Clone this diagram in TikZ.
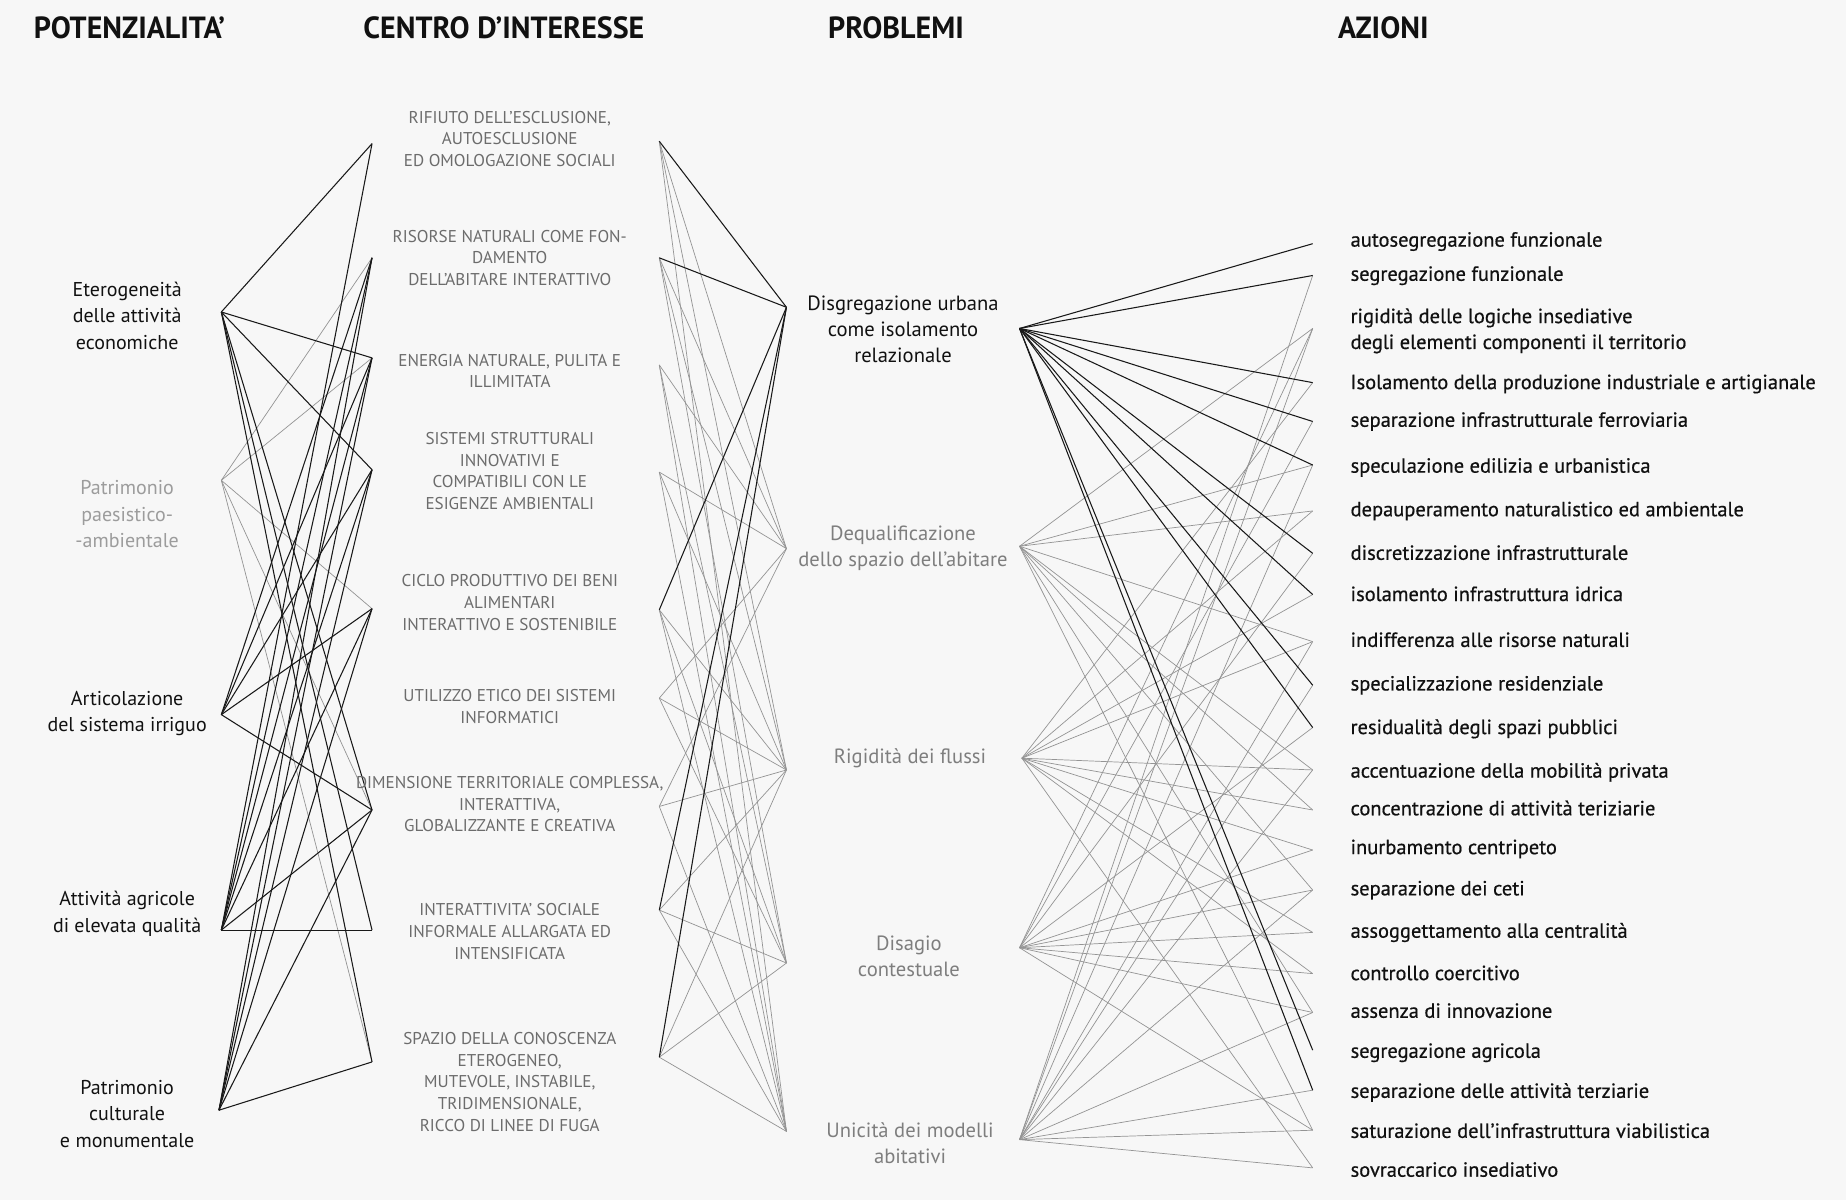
\documentclass[tikz,border=0pt]{standalone}
\usepackage{fontspec}
\setmainfont{PT Sans}
\newfontfamily\hdfont[FakeStretch=0.98]{PT Sans Bold}
\newfontfamily\capfont{PT Sans}
\newfontfamily\actfont[FakeBold=0.6]{PT Sans}
\definecolor{bgc}{HTML}{F7F7F7}
\definecolor{ink}{HTML}{111111}
\definecolor{cgrey}{HTML}{6C6C6C}
\definecolor{pgrey}{HTML}{7E7E7E}
\definecolor{lgrey}{HTML}{9C9C9C}
\begin{document}
\begin{tikzpicture}[x=1pt,y=-1pt,
  hdr/.style={font=\hdfont\fontsize{26}{28}\selectfont, text=ink, inner sep=0},
  lft/.style={font=\fontsize{17}{22.5}\selectfont, align=center, text=ink, inner sep=0},
  ctr/.style={font=\capfont\fontsize{14.5}{18.5}\selectfont, align=center, text=cgrey, inner sep=0},
  prb/.style={font=\fontsize{17.5}{22}\selectfont, align=center, text=ink, inner sep=0},
  act/.style={font=\actfont\fontsize{17.4}{22}\selectfont, align=left, text=ink, inner sep=0, anchor=mid west},
  blk/.style={draw=black!90, line width=0.9pt},
  gry/.style={draw=black!42, line width=0.6pt}]
\fill[bgc] (0,0) rectangle (1568,1019);
\useasboundingbox (0,0) rectangle (1568,1019);

% anchors: potenzialita
\coordinate (pL1) at (188,265);
\coordinate (pL2) at (188,408);
\coordinate (pL3) at (188,607);
\coordinate (pL4) at (188,790);
\coordinate (pL5) at (186,943);
% centro left
\coordinate (cL1) at (316,122);
\coordinate (cL2) at (316,219);
\coordinate (cL3) at (316,304);
\coordinate (cL4) at (316,399);
\coordinate (cL5) at (316,517);
\coordinate (cL7) at (316,688);
\coordinate (cL8) at (316,790);
\coordinate (cL9) at (316,902);
% centro right
\coordinate (cR1) at (560,120);
\coordinate (cR2) at (560,219);
\coordinate (cR3) at (560,310);
\coordinate (cR4) at (560,401);
\coordinate (cR5) at (560,518);
\coordinate (cR6) at (560,593);
\coordinate (cR7) at (560,685);
\coordinate (cR8) at (560,773);
\coordinate (cR9) at (560,898);
% problemi
\coordinate (qL1) at (668,261);
\coordinate (qL2) at (668,466);
\coordinate (qL3) at (668,654);
\coordinate (qL4) at (668,818);
\coordinate (qL5) at (668,961);
\coordinate (qR1) at (866,279);
\coordinate (qR2) at (866,464);
\coordinate (qR3) at (868,644);
\coordinate (qR4) at (866,805);
\coordinate (qR5) at (866,968);
% azioni
\foreach \n/\y in {1/207,2/234,3/279,4/325,5/358,6/395,7/434,8/470,9/505,10/545,11/582,12/618,13/654,14/688,15/722,16/756,17/792,18/827,19/860,20/892,21/926,22/960,23/992}
  \coordinate (a\n) at (1115,\y);

% ---- layer 1
\foreach \s/\t in {pL2/cL2,pL2/cL3,pL2/cL5,pL2/cL7,pL2/cL9}
  \draw[gry] (\s) -- (\t);
\foreach \s/\t in {pL1/cL1,pL1/cL3,pL1/cL4,pL1/cL7,pL1/cL8,pL1/cL9,
  pL3/cL2,pL3/cL3,pL3/cL4,pL3/cL5,pL3/cL7,
  pL4/cL1,pL4/cL2,pL4/cL3,pL4/cL4,pL4/cL5,pL4/cL7,pL4/cL8,
  pL5/cL2,pL5/cL3,pL5/cL4,pL5/cL5,pL5/cL7,pL5/cL9}
  \draw[blk] (\s) -- (\t);
% ---- layer 2
\foreach \s/\t in {cR1/qL2,cR1/qL3,cR1/qL5,cR2/qL2,cR2/qL3,cR2/qL4,cR3/qL2,cR3/qL4,cR3/qL5,
  cR4/qL2,cR4/qL3,cR4/qL5,cR5/qL3,cR5/qL4,cR5/qL5,cR6/qL2,cR6/qL3,cR6/qL4,
  cR7/qL2,cR7/qL3,cR7/qL5,cR8/qL3,cR8/qL4,cR8/qL5,cR9/qL3,cR9/qL4,cR9/qL5}
  \draw[gry] (\s) -- (\t);
\foreach \s/\t in {cR1/qL1,cR2/qL1,cR5/qL1,cR8/qL1,cR9/qL1}
  \draw[blk] (\s) -- (\t);
% ---- layer 3
\foreach \t in {3,6,7,10,13,14,16,19,22}
  \draw[gry] (qR2) -- (a\t);
\foreach \t in {4,7,9,10,13,14,15,17,18,23}
  \draw[gry] (qR3) -- (a\t);
\foreach \t in {3,5,8,12,15,16,17,18,19,22}
  \draw[gry] (qR4) -- (a\t);
\foreach \t in {2,3,6,10,11,13,16,19,21,22,23}
  \draw[gry] (qR5) -- (a\t);
\foreach \t in {1,2,4,5,6,8,9,11,12,20,21}
  \draw[blk] (qR1) -- (a\t);

% ---- headers
\node[hdr] (hPot) at (110,24) {POTENZIALITA’};
\node[hdr] (hCen) at (428,24) {CENTRO D’INTERESSE};
\node[hdr] (hPro) at (761,24) {PROBLEMI};
\node[hdr] (hAz)  at (1175,24) {AZIONI};

% ---- potenzialita labels
\node[lft] (tL1) at (108,268) {Eterogeneità\\delle attività\\economiche};
\node[lft, text=lgrey] (tL2) at (108,437) {Patrimonio\\paesistico-\\-ambientale};
\node[lft] (tL3) at (108,606) {Articolazione\\del sistema irriguo};
\node[lft] (tL4) at (108,776) {Attività agricole\\di elevata qualità};
\node[lft] (tL5) at (108,946) {Patrimonio\\culturale\\e monumentale};

% ---- centro labels
\node[ctr] (tC1) at (433,118) {RIFIUTO DELL’ESCLUSIONE,\\AUTOESCLUSIONE\\ED OMOLOGAZIONE SOCIALI};
\node[ctr] (tC2) at (433,219) {RISORSE NATURALI COME FON-\\DAMENTO\\DELL’ABITARE INTERATTIVO};
\node[ctr] (tC3) at (433,315) {ENERGIA NATURALE, PULITA E\\ILLIMITATA};
\node[ctr] (tC4) at (433,400) {SISTEMI STRUTTURALI\\INNOVATIVI E\\COMPATIBILI CON LE\\ESIGENZE AMBIENTALI};
\node[ctr] (tC5) at (433,512) {CICLO PRODUTTIVO DEI BENI\\ALIMENTARI\\INTERATTIVO E SOSTENIBILE};
\node[ctr] (tC6) at (433,600) {UTILIZZO ETICO DEI SISTEMI\\INFORMATICI};
\node[ctr] (tC7) at (433,683) {DIMENSIONE TERRITORIALE COMPLESSA,\\INTERATTIVA,\\GLOBALIZZANTE E CREATIVA};
\node[ctr] (tC8) at (433,791) {INTERATTIVITA’ SOCIALE\\INFORMALE ALLARGATA ED\\INTENSIFICATA};
\node[ctr] (tC9) at (433,919) {SPAZIO DELLA CONOSCENZA\\ETEROGENEO,\\MUTEVOLE, INSTABILE,\\TRIDIMENSIONALE,\\RICCO DI LINEE DI FUGA};

% ---- problemi labels
\node[prb] (tQ1) at (767,280) {Disgregazione urbana\\come isolamento\\relazionale};
\node[prb, text=pgrey] (tQ2) at (767,466) {Dequalificazione\\dello spazio dell’abitare};
\node[prb, text=pgrey] (tQ3) at (773,644) {Rigidità dei flussi};
\node[prb, text=pgrey] (tQ4) at (772,812) {Disagio\\contestuale};
\node[prb, text=pgrey] (tQ5) at (773,971) {Unicità dei modelli\\abitativi};

% ---- azioni labels
\node[act] (t1) at (1147,207) {autosegregazione funzionale};
\node[act] (t2) at (1147,236) {segregazione funzionale};
\node[act, anchor=west] (t3) at (1147,281) {rigidità delle logiche insediative\\degli elementi componenti il territorio};
\node[act] (t4) at (1147,328) {Isolamento della produzione industriale e artigianale};
\node[act] (t5) at (1147,360) {separazione infrastrutturale ferroviaria};
\node[act] (t6) at (1147,399) {speculazione edilizia e urbanistica};
\node[act] (t7) at (1147,436) {depauperamento naturalistico ed ambientale};
\node[act] (t8) at (1147,473) {discretizzazione infrastrutturale};
\node[act] (t9) at (1147,508) {isolamento infrastruttura idrica};
\node[act] (t10) at (1147,547) {indifferenza alle risorse naturali};
\node[act] (t11) at (1147,584) {specializzazione residenziale};
\node[act] (t12) at (1147,621) {residualità degli spazi pubblici};
\node[act] (t13) at (1147,658) {accentuazione della mobilità privata};
\node[act] (t14) at (1147,690) {concentrazione di attività teriziarie};
\node[act] (t15) at (1147,723) {inurbamento centripeto};
\node[act] (t16) at (1147,758) {separazione dei ceti};
\node[act] (t17) at (1147,794) {assoggettamento alla centralità};
\node[act] (t18) at (1147,830) {controllo coercitivo};
\node[act] (t19) at (1147,862) {assenza di innovazione};
\node[act] (t20) at (1147,896) {segregazione agricola};
\node[act] (t21) at (1147,930) {separazione delle attività terziarie};
\node[act] (t22) at (1147,964) {saturazione dell’infrastruttura viabilistica};
\node[act] (t23) at (1147,997) {sovraccarico insediativo};
\end{tikzpicture}
\end{document}
